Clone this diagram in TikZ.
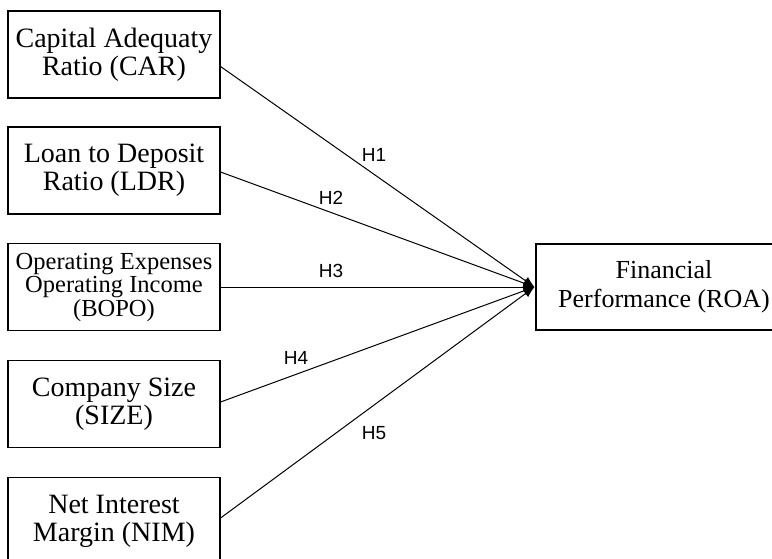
\documentclass[tikz,border=0pt]{standalone}
\usepackage{fontspec}
\setmainfont{Liberation Serif}
\newfontfamily\labfont{Liberation Sans}
\usetikzlibrary{arrows.meta}
\begin{document}
\begin{tikzpicture}[x=1pt,y=-1pt,
  varbox/.style={draw, line width=1.1pt, minimum width=212pt, minimum height=87pt, inner sep=0pt, align=center, font=\fontsize{28}{28}\selectfont},
  conn/.style={line width=1pt, -{Latex[length=11pt,width=9pt]}},
  hlab/.style={font=\labfont\fontsize{19}{20}\selectfont, inner sep=0pt}]
\useasboundingbox (0,0) rectangle (772,558);
\clip (0,0) rectangle (772,558);
\node[varbox] (car) at (114,54.5) {Capital Adequaty\\Ratio (CAR)};
\node[varbox] (ldr) at (114,170.5) {Loan to Deposit\\Ratio (LDR)};
\node[varbox, font=\fontsize{24.5}{23.5}\selectfont] (bopo) at (114,287) {Operating Expenses\\Operating Income\\(BOPO)};
\node[varbox] (size) at (114,404) {Company Size\\(SIZE)};
\node[varbox] (nim) at (114,521) {Net Interest\\Margin (NIM)};
\node[varbox, minimum width=256pt, minimum height=86pt, font=\fontsize{26}{29}\selectfont] (roa) at (664,287) {Financial\\Performance (ROA)};
\coordinate (tip) at ([xshift=-1pt]roa.west);
\draw[conn] ([yshift=-12pt]car.east) -- (tip);
\draw[conn] ([yshift=-1.5pt]ldr.east) -- (tip);
\draw[conn] (bopo.east) -- (tip);
\draw[conn] ([yshift=2pt]size.east) -- (tip);
\draw[conn] ([yshift=3pt]nim.east) -- (tip);
\node[hlab] (h1) at (374,155) {H1};
\node[hlab] (h2) at (331,198) {H2};
\node[hlab] (h3) at (331,271) {H3};
\node[hlab] (h4) at (296,358) {H4};
\node[hlab] (h5) at (374,433) {H5};
\end{tikzpicture}
\end{document}
